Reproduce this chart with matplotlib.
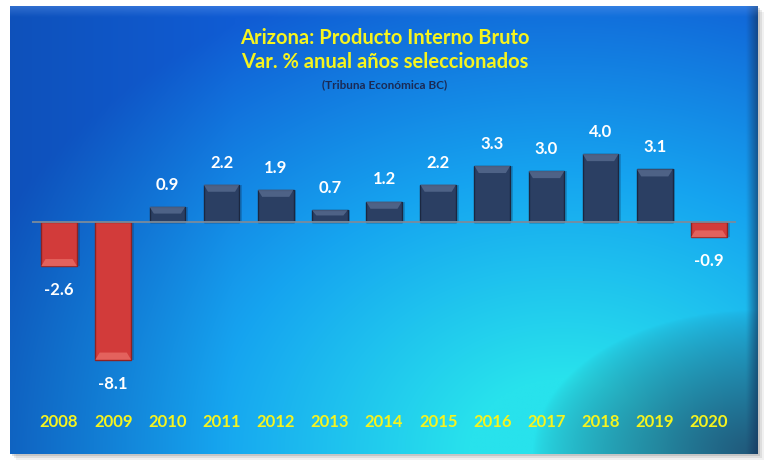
import numpy as np
import matplotlib
matplotlib.use("Agg")
import matplotlib.pyplot as plt
from matplotlib.patches import Rectangle
from matplotlib.transforms import blended_transform_factory

# --- data ---
years = ["2008", "2009", "2010", "2011", "2012", "2013", "2014",
         "2015", "2016", "2017", "2018", "2019", "2020"]
growth = [-2.6, -8.1, 0.9, 2.2, 1.9, 0.7, 1.2, 2.2, 3.3, 3.0, 4.0, 3.1, -0.9]

title1 = "Arizona: Producto Interno Bruto"
title2 = "Var. % anual años seleccionados"
source = "(Tribuna Económica BC)"

# --- colours ---
POS = "#2b3f63"
POS_EDGE = "#1b2740"
POS_HI = "#5a6e92"
NEG = "#d23b3a"
NEG_EDGE = "#8e2222"
NEG_HI = "#ea7069"
YELLOW = "#f6f41e"
FONT = "Lato"

W, H = 769, 469
fig = plt.figure(figsize=(W / 100, H / 100), dpi=100)
fig.patch.set_facecolor("white")

# --- panel background (gradient) ---
px0, py0, pw, ph = 10, 6, 748, 448   # pixels, y from top

# soft shadow behind panel
for k, a in [(6, 0.08), (4, 0.12), (2, 0.18)]:
    fig.patches.append(Rectangle(((px0 + k) / W, (H - py0 - ph - k) / H), pw / W, ph / H,
                                 transform=fig.transFigure, color="#555555", alpha=a,
                                 lw=0, zorder=0))

bg = fig.add_axes([px0 / W, (H - py0 - ph) / H, pw / W, ph / H], zorder=1)
u = np.linspace(0, 1, 500)[None, :]
v = np.linspace(0, 1, 300)[:, None]
d = np.sqrt(((u - 0.74) / 0.85) ** 2 + ((v - 1.0) / 1.12) ** 2)
t = np.clip(1 - d, 0, 1)[..., None]
c0 = np.array([16, 92, 212]) / 255
c1 = np.array([22, 165, 240]) / 255
c2 = np.array([40, 226, 236]) / 255
s1 = np.clip(t / 0.45, 0, 1)
s2 = np.clip((t - 0.45) / 0.4, 0, 1)
img = c0 * (1 - s1) + c1 * s1
img = img * (1 - s2) + c2 * s2
# darker toward left edge
img = img * (1 - 0.12 * np.clip(1 - u / 0.3, 0, 1))[..., None]
# dark shadow toward the bottom-right corner
dc = np.sqrt(((1 - u) / 0.3) ** 2 + ((1 - v) / 0.32) ** 2)
e = (np.clip(1 - dc, 0, 1) ** 0.7 * 0.85)[..., None]
dark = np.array([32, 66, 100]) / 255
img = img * (1 - e) + dark * e
# dark strip at right edge
rs = (np.clip((u - 0.985) / 0.015, 0, 1) * 0.6)[..., None]
img = img * (1 - rs) + np.array([20, 50, 90]) / 255 * rs
# light band along top edge
band = np.clip(1 - v / 0.025, 0, 1)[..., None] * 0.35
img = img * (1 - band) + np.array([0.45, 0.65, 0.95]) * band
bg.imshow(img, aspect="auto", extent=[0, 1, 0, 1], interpolation="bilinear")
bg.set_axis_off()

# --- main axes ---
ax_l, ax_w = 32, 704
ax_top, ax_bot = 145.5, 383.5
ax = fig.add_axes([ax_l / W, (H - ax_bot) / H, ax_w / W, (ax_bot - ax_top) / H], zorder=2)
ax.set_facecolor("none")
for s in ax.spines.values():
    s.set_visible(False)
ax.set_xticks([])
ax.set_yticks([])
ax.set_xlim(-0.5, len(years) - 0.5)
ax.set_ylim(-9.5, 4.5)

x = np.arange(len(years))
bw = 0.66
colors = [POS if g >= 0 else NEG for g in growth]
edges = [POS_EDGE if g >= 0 else NEG_EDGE for g in growth]

# drop shadow
ax.bar(x + 0.05, growth, width=bw, bottom=0, color="#0a2040", alpha=0.22, zorder=2)
ax.bar(x, growth, width=bw, color=colors, edgecolor=edges, linewidth=1.0, zorder=3)

# bevel (lighter trapezoid on the outer end of each bar)
for xi, g in zip(x, growth):
    dh = min(0.42, abs(g) * 0.45)
    dx = 0.08
    hi = POS_HI if g >= 0 else NEG_HI
    sgn = 1 if g >= 0 else -1
    xs = [xi - bw / 2, xi + bw / 2, xi + bw / 2 - dx, xi - bw / 2 + dx]
    ys = [g, g, g - sgn * dh, g - sgn * dh]
    ax.fill(xs, ys, color=hi, alpha=0.75, lw=0, zorder=4)

ax.axhline(0, color="#7b8b9b", lw=1.3, zorder=5)

# value labels
for xi, g in zip(x, growth):
    off = 1.3 if g >= 0 else -1.4
    ax.text(xi, g + off, f"{g:.1f}", ha="center", va="center", color="white",
            fontsize=12, fontweight="bold", family=FONT, zorder=6)

# year labels
trans = blended_transform_factory(ax.transData, fig.transFigure)
for xi, yr in zip(x, years):
    ax.text(xi, (H - 422) / H, yr, transform=trans, ha="center", va="center",
            color=YELLOW, fontsize=12, fontweight="bold", family=FONT,
            clip_on=False, zorder=6)

# titles
cx = 385 / W
fig.text(cx, (H - 38) / H, title1, ha="center", va="center", color=YELLOW,
         fontsize=14.5, fontweight="bold", family=FONT, zorder=7)
fig.text(cx, (H - 62) / H, title2, ha="center", va="center", color=YELLOW,
         fontsize=14.5, fontweight="bold", family=FONT, zorder=7)
fig.text(cx, (H - 85) / H, source, ha="center", va="center", color="#1a2a55",
         fontsize=8.5, fontweight="bold", family=FONT, zorder=7)

fig.savefig("out.png", dpi=100)
